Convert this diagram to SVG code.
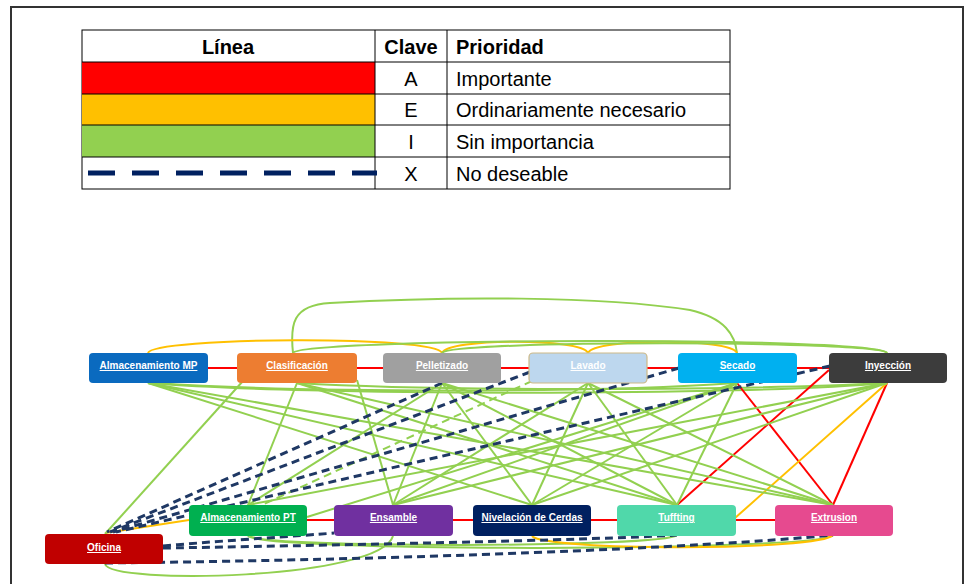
<svg xmlns="http://www.w3.org/2000/svg" width="965" height="584" viewBox="0 0 965 584">
<defs>
<style>
.tc{font-family:"Liberation Sans",Arial,sans-serif;font-size:20px;fill:#000}
.th{font-weight:bold}
.cell{fill:#fff;stroke:#000;stroke-width:1}
.nd{stroke:none}
.nt{font-family:"Liberation Sans",Arial,sans-serif;font-size:10px;font-weight:bold;fill:#fff;text-anchor:middle;text-decoration:underline}
.g{stroke:#92D050;stroke-width:2;fill:none}
.r{stroke:#FF0000;stroke-width:2;fill:none}
.o{stroke:#FFC000;stroke-width:2;fill:none}
.x{stroke:#1F3864;stroke-width:3;fill:none;stroke-dasharray:8 5}
.gd{stroke:#92D050;stroke-width:2;fill:none;stroke-dasharray:8 5}
</style>
</defs>
<rect x="0" y="0" width="965" height="584" fill="#fff"/>
<path d="M11,590 V7 H963 V590" fill="none" stroke="#333" stroke-width="2"/>

<g id="legend">
<rect class="cell" x="82" y="30" width="648" height="159"/>
<rect x="82" y="62" width="293" height="32" fill="#FF0000"/>
<rect x="82" y="94" width="293" height="31" fill="#FFC000"/>
<rect x="82" y="125" width="293" height="32" fill="#92D050"/>
<g stroke="#000" stroke-width="1">
<line x1="82" y1="62" x2="730" y2="62"/>
<line x1="82" y1="94" x2="730" y2="94"/>
<line x1="82" y1="125" x2="730" y2="125"/>
<line x1="82" y1="157" x2="730" y2="157"/>
<line x1="375" y1="30" x2="375" y2="189"/>
<line x1="447" y1="30" x2="447" y2="189"/>
</g>
<line x1="88" y1="173" x2="377" y2="173" stroke="#002060" stroke-width="5" stroke-dasharray="27 17"/>
<text class="tc th" x="228" y="54" text-anchor="middle">Línea</text>
<text class="tc th" x="411" y="54" text-anchor="middle">Clave</text>
<text class="tc th" x="456" y="54">Prioridad</text>
<text class="tc" x="411" y="86" text-anchor="middle">A</text>
<text class="tc" x="411" y="117" text-anchor="middle">E</text>
<text class="tc" x="411" y="149" text-anchor="middle">I</text>
<text class="tc" x="411" y="181" text-anchor="middle">X</text>
<text class="tc" x="456" y="86">Importante</text>
<text class="tc" x="456" y="117">Ordinariamente necesario</text>
<text class="tc" x="456" y="149">Sin importancia</text>
<text class="tc" x="456" y="181">No deseable</text>
</g>

<g id="connectors">
<!-- top arcs -->
<path class="g" d="M293,353 C290,325 292,305 330,303 C450,296 600,296 690,310 C725,318 735,335 737,353"/>
<path class="o" d="M148,353 C152,337 438,335 442,353"/>
<path class="o" d="M442,353 C448,338 582,338 588,353"/>
<path class="o" d="M588,353 C594,338 731,338 737,353"/>
<path class="g" d="M293,353 C300,338 880,336 887,353"/>
<path class="g" d="M442,353 C450,340 880,340 887,353"/>
<!-- top bottom curves -->
<path class="g" d="M150,383 C300,396 750,396 885,383"/>
<path class="g" d="M155,383 C300,393 600,393 735,383"/>
<path class="g" d="M297,383 C450,392 750,390 885,383"/>
<!-- red -->
<line class="r" x1="208" y1="368" x2="237" y2="368"/>
<line class="r" x1="357" y1="368" x2="383" y2="368"/>
<line class="r" x1="501" y1="368" x2="529" y2="368"/>
<line class="r" x1="647" y1="368" x2="678" y2="368"/>
<line class="r" x1="797" y1="368" x2="829" y2="368"/>
<line class="r" x1="307" y1="520" x2="334" y2="520"/>
<line class="r" x1="453" y1="520" x2="473" y2="520"/>
<line class="r" x1="591" y1="520" x2="617" y2="520"/>
<line class="r" x1="736" y1="520" x2="775" y2="520"/>
<line class="r" x1="737" y1="383" x2="833" y2="505"/>
<line class="r" x1="829" y1="370" x2="677" y2="505"/>
<line class="r" x1="887" y1="383" x2="833" y2="505"/>
<!-- orange -->
<line class="o" x1="887" y1="383" x2="735" y2="518"/>
<line class="o" x1="105" y1="533" x2="189" y2="520"/>
<!-- green straight -->
<line class="g" x1="148" y1="383" x2="532" y2="505"/>
<line class="g" x1="148" y1="383" x2="677" y2="505"/>
<line class="g" x1="148" y1="383" x2="833" y2="505"/>
<line class="g" x1="243" y1="381" x2="105" y2="534"/>
<line class="g" x1="297" y1="383" x2="248" y2="505"/>
<line class="g" x1="357" y1="380" x2="393" y2="505"/>
<line class="g" x1="297" y1="383" x2="677" y2="505"/>
<line class="g" x1="297" y1="383" x2="833" y2="505"/>
<line class="g" x1="442" y1="383" x2="248" y2="505"/>
<line class="g" x1="442" y1="383" x2="393" y2="505"/>
<line class="g" x1="442" y1="383" x2="532" y2="505"/>
<line class="g" x1="442" y1="383" x2="677" y2="505"/>
<line class="g" x1="442" y1="383" x2="833" y2="505"/>
<line class="g" x1="588" y1="383" x2="393" y2="505"/>
<line class="g" x1="588" y1="383" x2="532" y2="505"/>
<line class="g" x1="588" y1="383" x2="677" y2="505"/>
<line class="g" x1="588" y1="383" x2="833" y2="505"/>
<line class="g" x1="737" y1="383" x2="307" y2="517"/>
<line class="g" x1="737" y1="383" x2="393" y2="505"/>
<line class="g" x1="737" y1="383" x2="532" y2="505"/>
<line class="g" x1="737" y1="383" x2="677" y2="505"/>
<line class="g" x1="887" y1="383" x2="248" y2="505"/>
<line class="g" x1="887" y1="383" x2="393" y2="505"/>
<line class="g" x1="887" y1="383" x2="532" y2="505"/>
<line class="gd" x1="532" y1="381" x2="262" y2="505"/>
<!-- dashed X -->
<line class="x" x1="442" y1="383" x2="107" y2="532"/>
<line class="x" x1="530" y1="372" x2="110" y2="532"/>
<line class="x" x1="679" y1="368" x2="113" y2="532"/>
<line class="x" x1="830" y1="366" x2="116" y2="532"/>
<!-- bottom curves -->
<path class="g" d="M105,564 C110,585 380,580 393,536"/>
<path class="g" d="M248,536 C260,552 820,552 833,535"/>
<path class="g" d="M250,536 C262,548 665,548 677,535"/>
<path class="o" d="M532,536 C545,551 820,551 833,535"/>
<path class="x" d="M163,548 C300,546 600,540 677,535"/>
<path class="x" d="M105,563 C400,560 700,548 833,535"/>
<path class="x" d="M163,546 C230,540 300,536 334,533"/>
</g>

<g id="n-mp"><rect class="nd" x="89" y="353" width="119" height="30" rx="4" fill="#0A6ABF"/><text class="nt" x="148.5" y="369">Almacenamiento MP</text></g>
<g id="n-clasificacion"><rect class="nd" x="237" y="353" width="120" height="30" rx="4" fill="#ED7D31"/><text class="nt" x="297" y="369">Clasificación</text></g>
<g id="n-pelletizado"><rect class="nd" x="383" y="353" width="118" height="30" rx="4" fill="#A0A0A0"/><text class="nt" x="442" y="369">Pelletizado</text></g>
<g id="n-lavado"><rect x="529" y="353" width="118" height="30" rx="4" fill="#BDD7EE" stroke="#CDB987" stroke-width="1.2"/><text class="nt" x="588" y="369">Lavado</text></g>
<g id="n-secado"><rect class="nd" x="678" y="353" width="119" height="30" rx="4" fill="#00B0F0"/><text class="nt" x="737.5" y="369">Secado</text></g>
<g id="n-inyeccion"><rect class="nd" x="829" y="353" width="118" height="30" rx="4" fill="#3C3C3C"/><text class="nt" x="888" y="369">Inyección</text></g>
<g id="n-pt"><rect class="nd" x="189" y="505" width="118" height="31" rx="4" fill="#00B050"/><text class="nt" x="248" y="521">Almacenamiento PT</text></g>
<g id="n-ensamble"><rect class="nd" x="334" y="505" width="119" height="31" rx="4" fill="#7030A0"/><text class="nt" x="393.5" y="521">Ensamble</text></g>
<g id="n-nivelacion"><rect class="nd" x="473" y="505" width="118" height="31" rx="4" fill="#002060"/><text class="nt" x="532" y="521">Nivelación de Cerdas</text></g>
<g id="n-tuffting"><rect class="nd" x="617" y="505" width="119" height="31" rx="4" fill="#50D8AA"/><text class="nt" x="676.5" y="521">Tuffting</text></g>
<g id="n-extrusion"><rect class="nd" x="775" y="505" width="118" height="31" rx="4" fill="#E64A8F"/><text class="nt" x="834" y="521">Extrusion</text></g>
<g id="n-oficina"><rect class="nd" x="45" y="534" width="118" height="30" rx="4" fill="#C00000"/><text class="nt" x="104" y="551">Oficina</text></g>
</svg>
